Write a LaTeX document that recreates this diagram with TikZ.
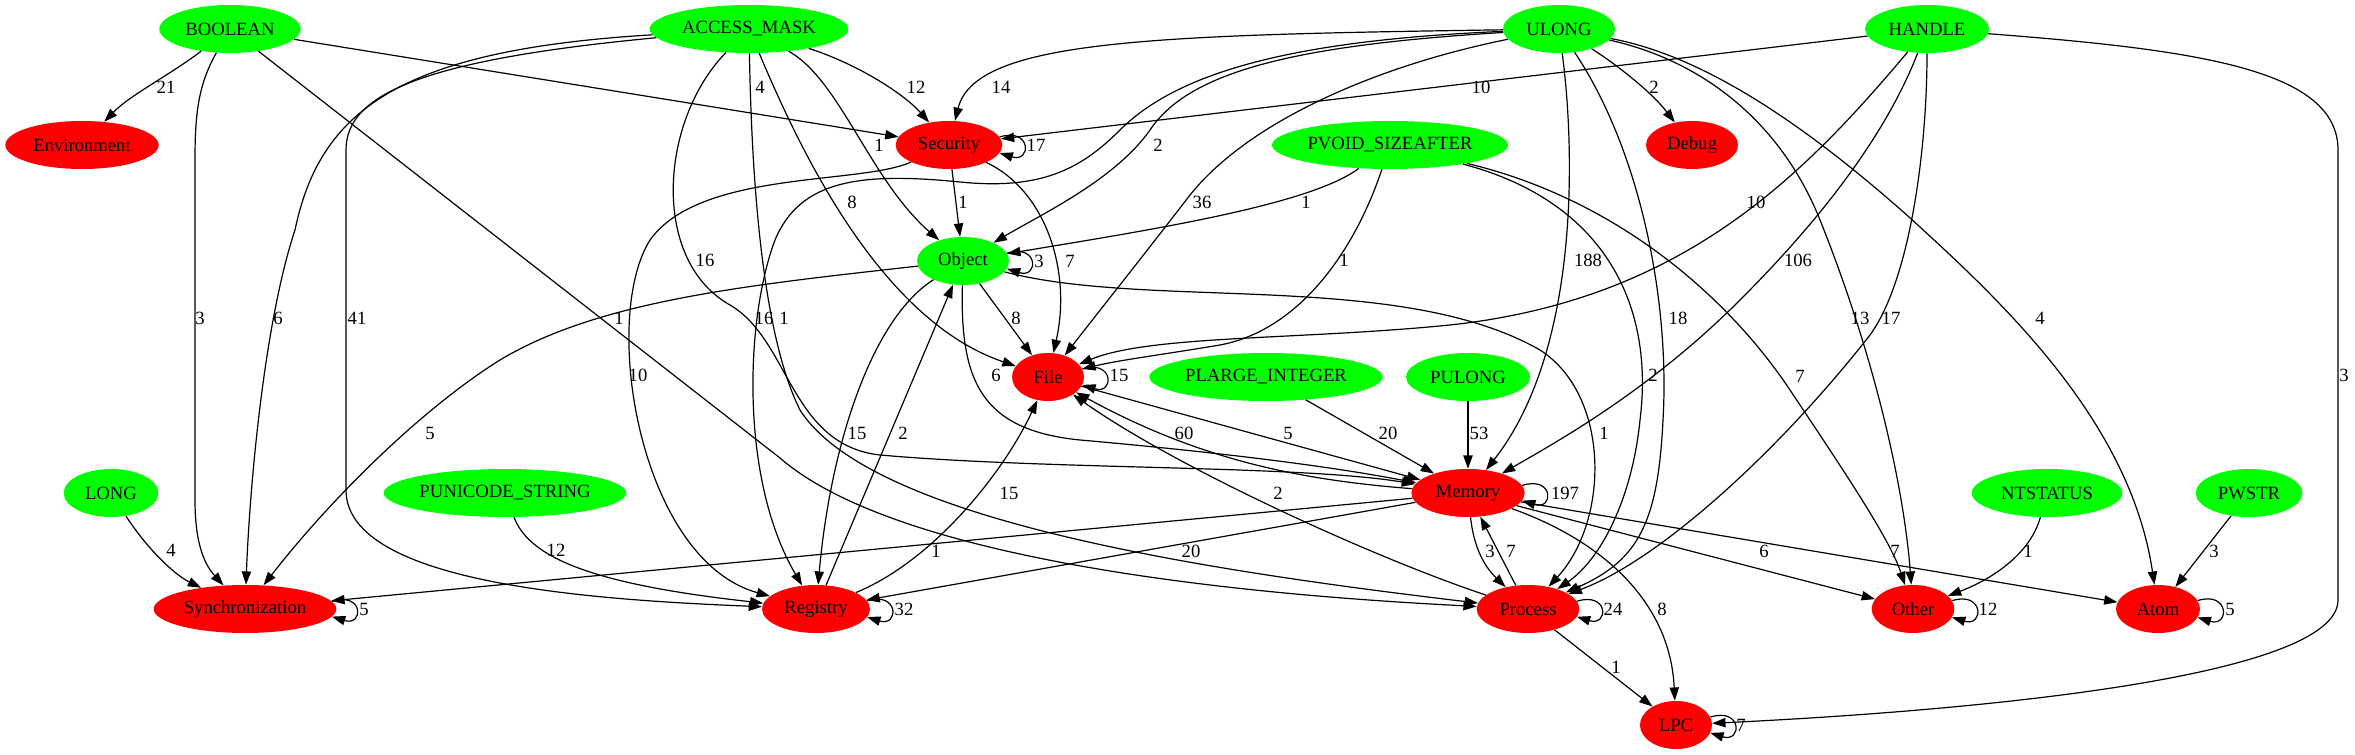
\documentclass[tikz,border=0pt]{standalone}
\usepackage{fontspec}
\setmainfont{Liberation Serif}
\usetikzlibrary{shapes.geometric,arrows.meta}
\definecolor{typegreen}{RGB}{0,255,0}
\definecolor{callred}{RGB}{255,0,0}

\begin{document}
\begin{tikzpicture}[x=0.75pt,y=-0.75pt,
    every node/.style={font=\fontsize{14pt}{16pt}\selectfont},
    gnode/.style={ellipse,fill=typegreen,inner sep=0pt,minimum height=36pt},
    rnode/.style={ellipse,fill=callred,inner sep=0pt,minimum height=36pt},
    link/.style={draw=black,line width=0.9pt,-{Triangle[length=10pt,width=7pt]}},
    lbl/.style={inner sep=0pt}]
\useasboundingbox (0,0) rectangle (2355,755);

% argument types (green) and call groups (red)
\node[gnode,minimum width=106pt] (boolean) at (230,29) {BOOLEAN};
\node[gnode,minimum width=149pt] (accessmask) at (749,29) {ACCESS\_MASK};
\node[gnode,minimum width=84pt] (ulong) at (1559,29) {ULONG};
\node[gnode,minimum width=93pt] (handle) at (1927,29) {HANDLE};
\node[rnode,minimum width=115pt] (environment) at (82,145) {Environment};
\node[rnode,minimum width=80pt] (security) at (949,145) {Security};
\node[gnode,minimum width=177pt] (pvoid) at (1390,145) {PVOID\_SIZEAFTER};
\node[rnode,minimum width=69pt] (debug) at (1692,145) {Debug};
\node[gnode,minimum width=69pt] (object) at (963,261) {Object};
\node[rnode,minimum width=54pt] (file) at (1048,377) {File};
\node[gnode,minimum width=175pt] (plarge) at (1266,377) {PLARGE\_INTEGER};
\node[gnode,minimum width=93pt] (pulong) at (1468,377) {PULONG};
\node[gnode,minimum width=71pt] (long) at (111,493) {LONG};
\node[gnode,minimum width=182pt] (punicode) at (505,493) {PUNICODE\_STRING};
\node[rnode,minimum width=85pt] (memory) at (1468,493) {Memory};
\node[gnode,minimum width=113pt] (ntstatus) at (2047,493) {NTSTATUS};
\node[gnode,minimum width=80pt] (pwstr) at (2249,493) {PWSTR};
\node[rnode,minimum width=137pt] (sync) at (245,609) {Synchronization};
\node[rnode,minimum width=81pt] (registry) at (816,609) {Registry};
\node[rnode,minimum width=77pt] (process) at (1528,609) {Process};
\node[rnode,minimum width=62pt] (other) at (1913,609) {Other};
\node[rnode,minimum width=63pt] (atom) at (2158,609) {Atom};
\node[rnode,minimum width=54pt] (lpc) at (1676,725) {LPC};

% BOOLEAN
\draw[link] (boolean) .. controls (170,75) and (130,95) .. (environment) node[lbl] at (166,87) {21};
\draw[link] (boolean) .. controls (198,85) and (195,115) .. (195,160) -- (195,500) .. controls (195,545) and (205,565) .. (sync) node[lbl] at (200,318) {3};
\draw[link] (boolean) -- (security) node[lbl] at (760,87) {4};
\draw[link] (boolean) -- (780,458) .. controls (880,545) and (1150,590) .. (process) node[lbl] at (619,318) {1};

% ACCESS_MASK
\draw[link] (accessmask) .. controls (860,65) and (905,95) .. (security) node[lbl] at (916,87) {12};
\draw[link] (accessmask) .. controls (840,80) and (870,180) .. (object) node[lbl] at (879,145) {1};
\draw[link] (accessmask) .. controls (800,150) and (880,320) .. (file) node[lbl] at (852,202) {8};
\draw[link] (accessmask) .. controls (400,50) and (320,110) .. (295,230) .. controls (265,320) and (250,480) .. (sync) node[lbl] at (278,318) {6};
\draw[link] (accessmask) .. controls (420,60) and (346,95) .. (346,150) -- (346,490) .. controls (346,585) and (600,600) .. (registry) node[lbl] at (357,318) {41};
\draw[link] (accessmask) .. controls (660,120) and (650,260) .. (730,305) .. controls (790,340) and (790,445) .. (880,455) .. controls (1050,470) and (1300,465) .. (memory) node[lbl] at (705,260) {16};
\draw[link] (accessmask) .. controls (752,200) and (765,340) .. (800,410) .. controls (870,520) and (1200,570) .. (process) node[lbl] at (784,318) {1};

% ULONG
\draw[link] (ulong) .. controls (1150,35) and (975,40) .. (security) node[lbl] at (1001,87) {14};
\draw[link] (ulong) .. controls (1610,60) and (1650,90) .. (debug) node[lbl] at (1654,87) {2};
\draw[link] (ulong) .. controls (1300,45) and (1190,70) .. (1150,130) .. controls (1115,180) and (1040,215) .. (object) node[lbl] at (1158,145) {2};
\draw[link] (ulong) .. controls (1380,65) and (1250,120) .. (1190,195) .. controls (1140,260) and (1100,310) .. (file) node[lbl] at (1202,202) {36};
\draw[link] (ulong) .. controls (1575,150) and (1580,350) .. (memory) node[lbl] at (1588,260) {188};
\draw[link] (ulong) .. controls (1640,150) and (1670,300) .. (1663,420) .. controls (1658,520) and (1640,560) .. (process) node[lbl] at (1678,318) {18};
\draw[link] (ulong) .. controls (1700,60) and (1780,120) .. (1820,220) .. controls (1880,370) and (1905,500) .. (other) node[lbl] at (1860,318) {13};
\draw[link] (ulong) .. controls (1700,55) and (1800,120) .. (1909,217) .. controls (2000,300) and (2130,420) .. (atom) node[lbl] at (2040,318) {4};
\draw[link] (ulong) .. controls (1300,40) and (1180,70) .. (1120,130) .. controls (1080,170) and (1040,190) .. (960,182) .. controls (860,172) and (800,180) .. (775,240) .. controls (745,320) and (740,480) .. (registry) node[lbl] at (764,318) {16};

% HANDLE
\draw[link] (handle) -- (security) node[lbl] at (1481,87) {10};
\draw[link] (handle) .. controls (1800,180) and (1680,300) .. (1450,325) .. controls (1300,340) and (1150,335) .. (file) node[lbl] at (1756,202) {10};
\draw[link] (handle) .. controls (1880,150) and (1800,240) .. (1740,300) .. controls (1650,390) and (1560,440) .. (memory) node[lbl] at (1798,260) {106};
\draw[link] (handle) .. controls (1927,150) and (1910,280) .. (1870,335) .. controls (1780,450) and (1660,560) .. (process) node[lbl] at (1891,318) {17};
\draw[link] (handle) .. controls (2200,50) and (2338,70) .. (2338,150) -- (2338,600) .. controls (2338,680) and (1950,712) .. (lpc) node[lbl] at (2344,375) {3};

% PVOID_SIZEAFTER
\draw[link] (pvoid) .. controls (1310,205) and (1150,230) .. (object) node[lbl] at (1306,202) {1};
\draw[link] (pvoid) .. controls (1355,250) and (1300,330) .. (1220,345) .. controls (1160,355) and (1120,360) .. (file) node[lbl] at (1344,260) {1};
\draw[link] (pvoid) .. controls (1600,200) and (1655,300) .. (1640,420) .. controls (1632,500) and (1600,560) .. (process) node[lbl] at (1653,375) {2};
\draw[link] (pvoid) .. controls (1620,200) and (1730,300) .. (1790,390) .. controls (1850,480) and (1890,540) .. (other) node[lbl] at (1800,376) {7};

% Security
\draw[link] (security) -- (object) node[lbl] at (963,202) {1};
\draw[link] (security) .. controls (1045,190) and (1072,270) .. (file) node[lbl] at (1070,261) {7};
\draw[link] (security) .. controls (860,185) and (700,170) .. (650,240) .. controls (600,320) and (640,560) .. (registry) node[lbl] at (638,375) {10};
\draw[link] (security.9) .. controls +(32,-10) and +(32,10) .. (security.-9) node[lbl] at (1036,145) {17};

% Object
\draw[link] (object.10) .. controls +(32,-10) and +(32,10) .. (object.-10) node[lbl] at (1039,261) {3};
\draw[link] (object) -- (file) node[lbl] at (1016,318) {8};
\draw[link] (object) .. controls (750,285) and (600,300) .. (500,360) .. controls (420,410) and (330,500) .. (sync) node[lbl] at (430,433) {5};
\draw[link] (object) .. controls (870,320) and (830,450) .. (registry) node[lbl] at (857,433) {15};
\draw[link] (object) .. controls (960,380) and (980,430) .. (1080,440) .. controls (1250,455) and (1350,470) .. (memory) node[lbl] at (996,375) {6};
\draw[link] (object) .. controls (1150,310) and (1400,270) .. (1540,350) .. controls (1610,395) and (1610,520) .. (process) node[lbl] at (1604,433) {1};

% File
\draw[link] (file.13) .. controls +(32,-10) and +(32,10) .. (file.-13) node[lbl] at (1119,375) {15};
\draw[link] (file) -- (memory) node[lbl] at (1288,433) {5};
\draw[link] (plarge) -- (memory) node[lbl] at (1388,433) {20};
\draw[link] (pulong) -- (memory) node[lbl] at (1479,433) {53};

% Memory
\draw[link] (memory.8) .. controls +(32,-10) and +(32,10) .. (memory.-8) node[lbl] at (1565,493) {197};
\draw[link] (memory) .. controls (1300,480) and (1200,460) .. (file) node[lbl] at (1184,433) {60};
\draw[link] (memory) -- (sync) node[lbl] at (936,551) {1};
\draw[link] (memory) -- (registry) node[lbl] at (1191,551) {20};
\draw[link] (memory) .. controls (1474,550) and (1486,568) .. (process) node[lbl] at (1490,551) {3};
\draw[link] (memory) -- (other) node[lbl] at (1764,551) {6};
\draw[link] (memory) -- (atom) node[lbl] at (1895,551) {7};
\draw[link] (memory) .. controls (1600,540) and (1670,600) .. (lpc) node[lbl] at (1662,609) {8};

% Registry
\draw[link] (registry.9) .. controls +(32,-10) and +(32,10) .. (registry.-9) node[lbl] at (904,609) {32};
\draw[link] (registry) -- (object) node[lbl] at (903,433) {2};
\draw[link] (registry) .. controls (935,560) and (1005,470) .. (file) node[lbl] at (1009,493) {15};

% Process
\draw[link] (process.9) .. controls +(32,-10) and +(32,10) .. (process.-9) node[lbl] at (1613,609) {24};
\draw[link] (process) -- (memory) node[lbl] at (1511,551) {7};
\draw[link] (process) .. controls (1380,560) and (1180,470) .. (file) node[lbl] at (1278,493) {2};
\draw[link] (process) -- (lpc) node[lbl] at (1616,667) {1};

% the rest
\draw[link] (long) .. controls (148,550) and (175,575) .. (sync) node[lbl] at (171,550) {4};
\draw[link] (punicode) .. controls (530,560) and (600,585) .. (registry) node[lbl] at (556,550) {12};
\draw[link] (ntstatus) .. controls (2030,555) and (1990,580) .. (other) node[lbl] at (2028,551) {1};
\draw[link] (pwstr) -- (atom) node[lbl] at (2214,551) {3};
\draw[link] (sync.5) .. controls +(32,-10) and +(32,10) .. (sync.-5) node[lbl] at (364,609) {5};
\draw[link] (other.12) .. controls +(32,-10) and +(32,10) .. (other.-12) node[lbl] at (1988,609) {12};
\draw[link] (atom.12) .. controls +(32,-10) and +(32,10) .. (atom.-12) node[lbl] at (2230,609) {5};
\draw[link] (lpc.13) .. controls +(32,-10) and +(32,10) .. (lpc.-13) node[lbl] at (1741,725) {7};
\end{tikzpicture}
\end{document}
